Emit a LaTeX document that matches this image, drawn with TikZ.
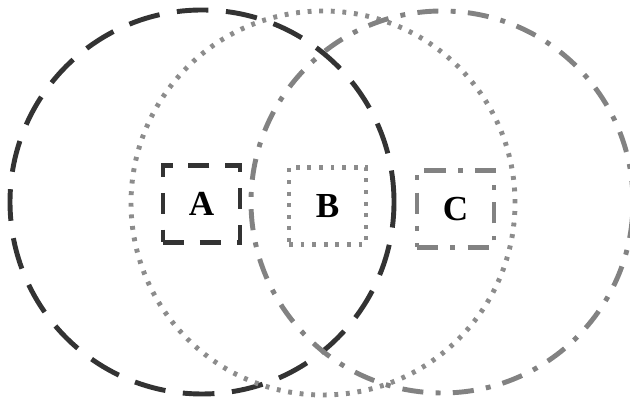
\documentclass[tikz,border=0pt]{standalone}
\usepackage{fontspec}
\setmainfont{Liberation Serif}
\usepackage{tikz}
\usetikzlibrary{positioning}
\usepackage{xcolor}
\definecolor{setAcol}{RGB}{51,51,51}
\definecolor{setBcol}{RGB}{140,140,140}
\definecolor{setCcol}{RGB}{130,130,130}

\begin{document}
\begin{tikzpicture}[
  ringA/.style={draw=setAcol, line width=1.4pt, dash pattern=on 9pt off 5pt},
  ringB/.style={draw=setBcol, line width=1.4pt, dash pattern=on 1.1pt off 2.2pt},
  ringC/.style={draw=setCcol, line width=1.4pt,
                dash pattern=on 6pt off 3.5pt on 1.4pt off 3.5pt},
  setbox/.style={minimum size=0.77cm, inner sep=0pt,
                 font=\fontsize{10}{12}\selectfont\bfseries}
]
  \useasboundingbox (0,0) rectangle (6.3,3.99);
  \clip (0,0) rectangle (6.3,3.99);

  % Overlapping sets
  \draw[ringA] (2.02,1.97) circle (1.92);
  \draw[ringB] (3.23,1.96) circle (1.92);
  \draw[ringC] (4.42,1.97) circle (1.91);

  % Set labels
  \node[setbox, ringA, dash pattern=on 6pt off 4.5pt] (A) at (2.015,1.95) {A};
  \node[setbox, ringB] (B) at (3.275,1.93) {B};
  \node[setbox, ringC] (C) at (4.555,1.90) {C};
\end{tikzpicture}
\end{document}
